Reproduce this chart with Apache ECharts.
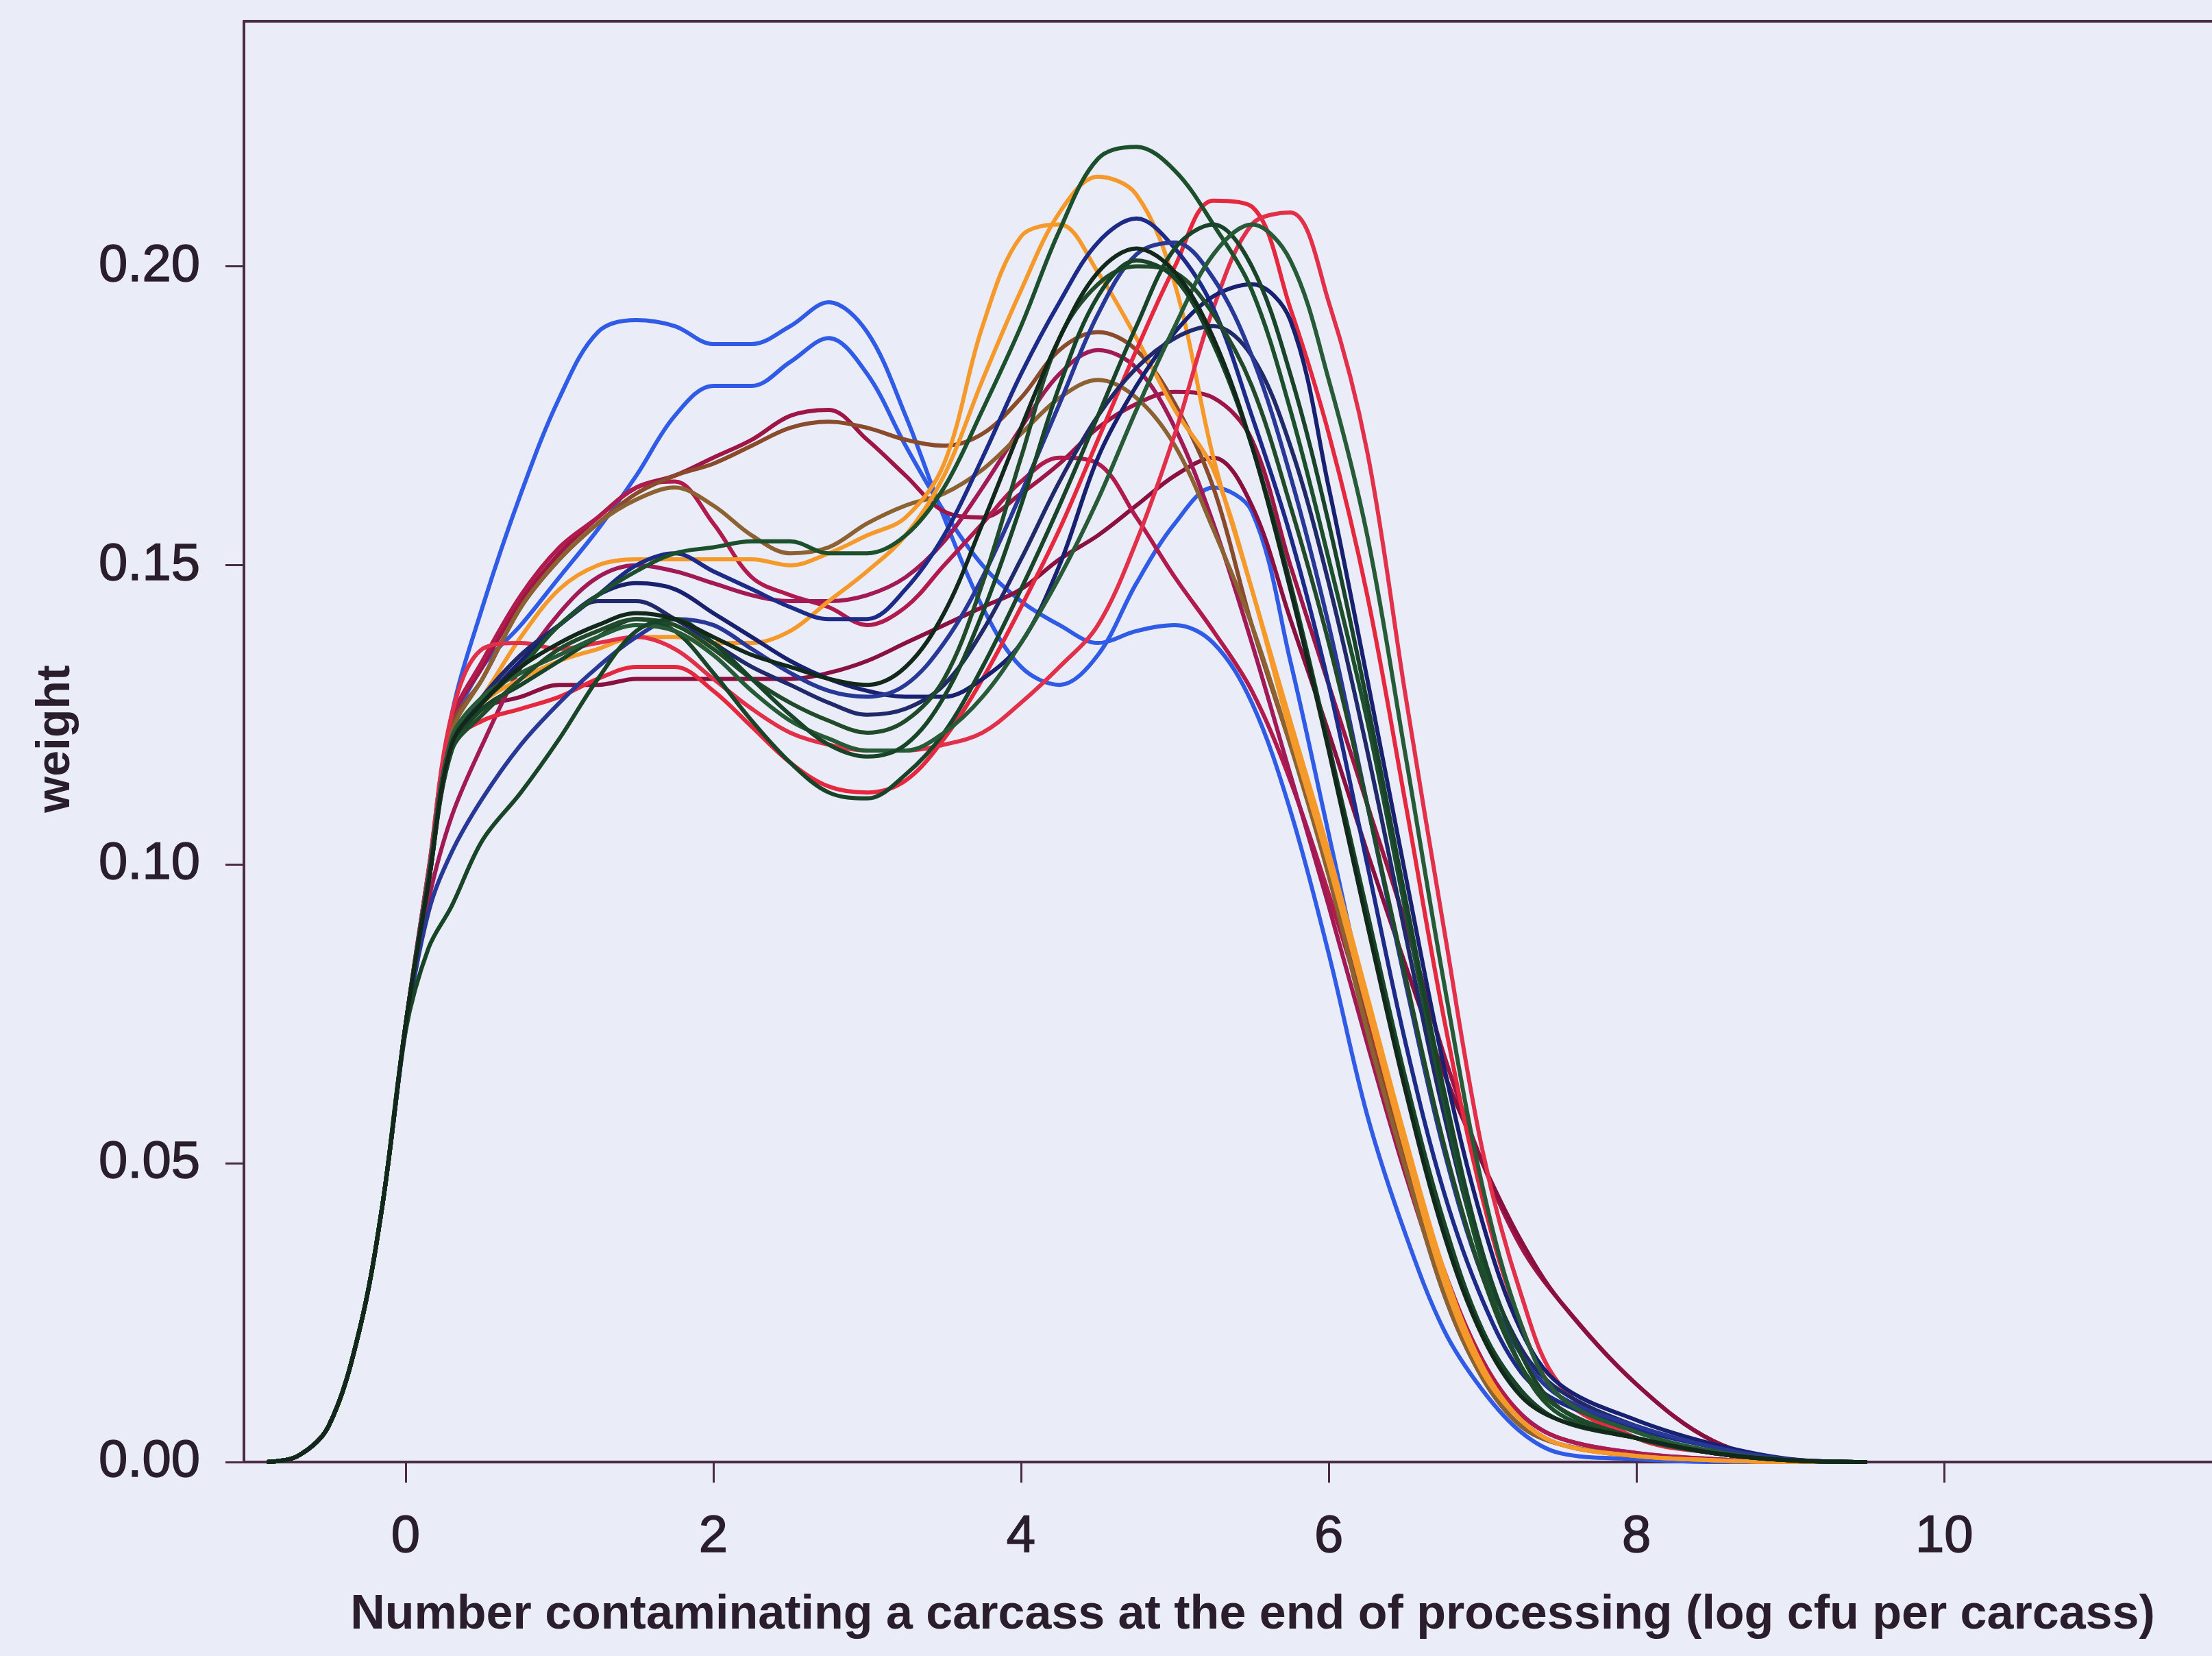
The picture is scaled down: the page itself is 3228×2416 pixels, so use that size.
<!DOCTYPE html>
<html>
<head>
<meta charset="utf-8">
<script src="https://cdn.jsdelivr.net/npm/echarts@6/dist/echarts.min.js"></script>
<style>
html,body{margin:0;padding:0;background:#eaecf7;}
#chart{width:3228px;height:2416px;}
</style>
</head>
<body>
<div id="chart"></div>
<script>
// shared x positions (log cfu per carcass)
const xs = [-0.9,-0.7,-0.5,-0.3,-0.15,0,0.15,0.3,0.5,0.75,1,1.25,1.5,1.75,2,2.25,2.5,2.75,3,3.25,3.5,3.75,4,4.25,4.5,4.75,5,5.25,5.5,5.75,6,6.25,6.5,6.75,7,7.25,7.5,8,8.5,9,9.5];

const xTickValues = [0,2,4,6,8,10];
const yTickValues = [0,0.05,0.10,0.15,0.20];

// weight curves
const blueA    = [0,.001,.006,.022,.043,.073,.099,.125,.143,.162,.178,.189,.191,.190,.187,.187,.190,.194,.189,.175,.158,.143,.133,.130,.135,.147,.157,.163,.159,.134,.105,.076,.050,.030,.016,.008,.004,.0015,.0005,0,0];
const blueB    = [0,.001,.006,.022,.043,.073,.098,.122,.133,.140,.148,.156,.165,.175,.180,.180,.184,.188,.182,.170,.159,.150,.144,.140,.137,.139,.140,.137,.127,.109,.085,.058,.038,.022,.012,.005,.0015,.0005,0,0,0];
const crimsonHi= [0,.001,.006,.022,.043,.073,.099,.124,.133,.144,.152,.158,.163,.165,.168,.171,.175,.176,.171,.165,.159,.158,.162,.167,.173,.177,.179,.178,.171,.150,.130,.110,.090,.068,.050,.036,.027,.013,.0035,.0003,0];
const brownHi  = [0,.001,.006,.022,.043,.073,.098,.123,.131,.143,.151,.157,.162,.165,.167,.170,.173,.174,.173,.171,.170,.172,.178,.186,.189,.186,.177,.163,.140,.120,.100,.073,.050,.028,.014,.006,.003,.001,.0003,0,0];
const brownMid = [0,.001,.006,.022,.043,.073,.097,.122,.131,.143,.151,.157,.161,.163,.160,.155,.152,.153,.157,.160,.162,.166,.172,.178,.181,.178,.170,.156,.140,.120,.098,.072,.049,.028,.014,.006,.003,.001,.0003,0,0];
const crimsonMid=[0,.001,.006,.022,.043,.073,.098,.124,.134,.145,.153,.158,.163,.164,.157,.148,.145,.143,.140,.143,.150,.157,.164,.168,.167,.158,.148,.139,.129,.114,.095,.074,.052,.032,.017,.008,.004,.0015,.0005,0,0];
const maroonLow= [0,.001,.006,.022,.043,.073,.098,.120,.126,.128,.130,.130,.131,.131,.131,.131,.131,.132,.134,.137,.140,.143,.146,.151,.155,.160,.165,.168,.160,.141,.122,.102,.083,.065,.050,.037,.027,.013,.0035,.0003,0];
const crimson2 = [0,.001,.006,.022,.043,.073,.094,.108,.120,.133,.142,.148,.150,.149,.147,.145,.144,.144,.145,.148,.154,.163,.173,.182,.186,.183,.173,.157,.137,.115,.093,.070,.048,.029,.015,.007,.003,.001,.0003,0,0];
const orangeA  = [0,.001,.006,.022,.043,.073,.098,.121,.128,.138,.146,.150,.151,.151,.151,.151,.150,.152,.155,.158,.167,.190,.205,.207,.199,.188,.176,.166,.146,.122,.100,.076,.052,.030,.015,.007,.003,.001,.0003,0,0];
const orangeB  = [0,.001,.006,.022,.043,.073,.098,.120,.127,.131,.134,.136,.138,.138,.137,.137,.139,.144,.149,.155,.165,.181,.196,.209,.215,.212,.197,.168,.146,.124,.102,.078,.054,.032,.016,.007,.003,.001,.0003,0,0];
const redA     = [0,.001,.006,.022,.043,.073,.098,.120,.124,.126,.128,.131,.133,.133,.129,.123,.117,.113,.112,.114,.121,.131,.143,.156,.171,.186,.200,.211,.210,.193,.172,.145,.110,.074,.044,.023,.011,.004,.0015,.0003,0];
const redB     = [0,.001,.006,.022,.043,.073,.099,.125,.136,.137,.136,.137,.138,.136,.131,.126,.122,.120,.119,.119,.120,.122,.127,.133,.140,.154,.172,.193,.207,.209,.194,.169,.128,.089,.052,.028,.013,.004,.0015,.0003,0];
const navyA    = [0,.001,.006,.022,.043,.073,.098,.121,.128,.135,.140,.145,.150,.152,.149,.146,.143,.141,.141,.146,.155,.168,.182,.194,.204,.208,.203,.193,.175,.155,.130,.100,.070,.045,.027,.015,.010,.0055,.0025,.0003,0];
const navyB    = [0,.001,.006,.022,.043,.073,.097,.120,.127,.134,.140,.145,.147,.146,.142,.138,.134,.131,.129,.128,.128,.131,.137,.150,.168,.180,.189,.195,.197,.191,.163,.131,.098,.066,.040,.022,.013,.007,.003,.0005,0];
const navyC    = [0,.001,.006,.022,.043,.073,.098,.121,.128,.135,.140,.144,.144,.141,.137,.133,.130,.127,.125,.126,.130,.139,.151,.164,.175,.183,.188,.190,.185,.170,.147,.119,.088,.058,.034,.019,.012,.006,.0025,.0004,0];
const navyLow  = [0,.001,.006,.022,.043,.072,.092,.102,.111,.120,.127,.133,.138,.141,.140,.136,.132,.129,.128,.130,.137,.148,.162,.177,.192,.202,.204,.198,.185,.165,.140,.110,.080,.052,.031,.018,.011,.006,.0025,.0004,0];
const greenA   = [0,.001,.006,.022,.043,.073,.097,.120,.127,.133,.140,.145,.149,.152,.153,.154,.154,.152,.152,.155,.163,.176,.190,.206,.218,.220,.216,.207,.196,.176,.151,.124,.092,.060,.033,.016,.008,.004,.0015,.0003,0];
const greenB   = [0,.001,.006,.022,.043,.073,.097,.119,.126,.130,.134,.138,.141,.139,.132,.124,.117,.112,.111,.115,.122,.133,.146,.160,.175,.190,.203,.207,.200,.182,.157,.127,.094,.062,.035,.018,.009,.004,.0015,.0003,0];
const greenC   = [0,.001,.006,.022,.043,.073,.098,.121,.128,.132,.135,.138,.140,.139,.135,.129,.124,.121,.119,.119,.122,.128,.137,.148,.161,.176,.190,.202,.207,.201,.181,.155,.118,.080,.046,.023,.011,.005,.0018,.0003,0];
const greenD   = [0,.001,.006,.022,.043,.073,.097,.120,.127,.133,.137,.140,.142,.141,.138,.135,.133,.131,.130,.133,.142,.157,.173,.188,.199,.203,.199,.188,.170,.146,.119,.090,.062,.038,.021,.011,.007,.004,.0015,.0003,0];
const greenE   = [0,.001,.006,.022,.043,.073,.097,.119,.125,.131,.136,.139,.141,.140,.136,.131,.127,.124,.122,.124,.131,.147,.168,.188,.197,.200,.199,.192,.180,.160,.137,.110,.081,.053,.031,.016,.009,.004,.0015,.0003,0];
const greenLow = [0,.001,.006,.022,.043,.072,.086,.093,.104,.112,.121,.131,.139,.141,.137,.131,.125,.120,.118,.120,.128,.142,.160,.180,.195,.201,.198,.187,.170,.147,.120,.092,.064,.040,.022,.012,.007,.004,.0015,.0003,0];

const curves = [
  {d: blueA, c: '#2f5be6'},
  {d: blueB, c: '#2f5be6'},
  {d: crimsonHi, c: '#9e1646'},
  {d: maroonLow, c: '#8a1040'},
  {d: crimsonMid, c: '#b01a4c'},
  {d: crimson2, c: '#a11a55'},
  {d: brownHi, c: '#8a4a2c'},
  {d: brownMid, c: '#8c6232'},
  {d: orangeA, c: '#f59a2a'},
  {d: orangeB, c: '#f59a2a'},
  {d: redA, c: '#e6283f'},
  {d: redB, c: '#e3304a'},
  {d: navyA, c: '#1c2a88'},
  {d: navyB, c: '#18216f'},
  {d: navyC, c: '#20296a'},
  {d: navyLow, c: '#283896'},
  {d: greenA, c: '#1c4f2c'},
  {d: greenB, c: '#1a4429'},
  {d: greenC, c: '#275a36'},
  {d: greenE, c: '#214a2b'},
  {d: greenLow, c: '#184527'},
  {d: greenD, c: '#11281a'}
];

const AXIS = '#4a2a44';
const TEXT = '#2a1e2c';
const FONT = '"Liberation Sans", Arial, sans-serif';

const chart = echarts.init(document.getElementById('chart'), null, {renderer: 'canvas'});
chart.setOption({
  backgroundColor: '#eaecf7',
  animation: false,
  grid: {left: 356, right: 0, top: 31, bottom: 283, containLabel: false},
  xAxis: [{
    type: 'value', min: -1.05, max: 11.74, position: 'bottom',
    axisLine: {show: true, onZero: false, lineStyle: {color: AXIS, width: 4}},
    axisTick: {show: true, inside: false, length: 30, customValues: xTickValues, lineStyle: {color: AXIS, width: 3}},
    axisLabel: {customValues: xTickValues, fontSize: 76, margin: 72, color: TEXT, fontFamily: FONT,
      textBorderColor: TEXT, textBorderWidth: 1.5},
    splitLine: {show: false}
  }, {
    type: 'value', min: -1.05, max: 11.74, position: 'top',
    axisLine: {show: true, onZero: false, lineStyle: {color: AXIS, width: 4}},
    axisTick: {show: false}, axisLabel: {show: false}, splitLine: {show: false}
  }],
  yAxis: {
    type: 'value', min: 0, max: 0.241,
    axisLine: {show: true, onZero: false, lineStyle: {color: AXIS, width: 4}},
    axisTick: {show: true, inside: false, length: 27, customValues: yTickValues, lineStyle: {color: AXIS, width: 3}},
    axisLabel: {customValues: yTickValues, fontSize: 76, margin: 64, color: TEXT, fontFamily: FONT,
      textBorderColor: TEXT, textBorderWidth: 1.5,
      formatter: v => v.toFixed(2)},
    splitLine: {show: false}
  },
  graphic: [
    {type: 'text', x: 1828, y: 2357, z: 10,
      style: {text: 'Number contaminating a carcass at the end of processing (log cfu per carcass)',
        fontSize: 70, fontWeight: 'bold', fontFamily: FONT, fill: TEXT, align: 'center', verticalAlign: 'middle'}},
    {type: 'text', x: 82, y: 1078, rotation: Math.PI / 2, z: 10,
      style: {text: 'weight', fontSize: 68, fontWeight: 'bold', fontFamily: FONT, fill: TEXT, align: 'center', verticalAlign: 'middle'}}
  ],
  series: curves.map((s, i) => ({
    type: 'line',
    xAxisIndex: 0,
    data: xs.map((x, k) => [x, s.d[k]]),
    showSymbol: false,
    smooth: 0.35,
    lineStyle: {color: s.c, width: 6},
    z: 2 + i * 0.01
  }))
});
</script>
</body>
</html>
